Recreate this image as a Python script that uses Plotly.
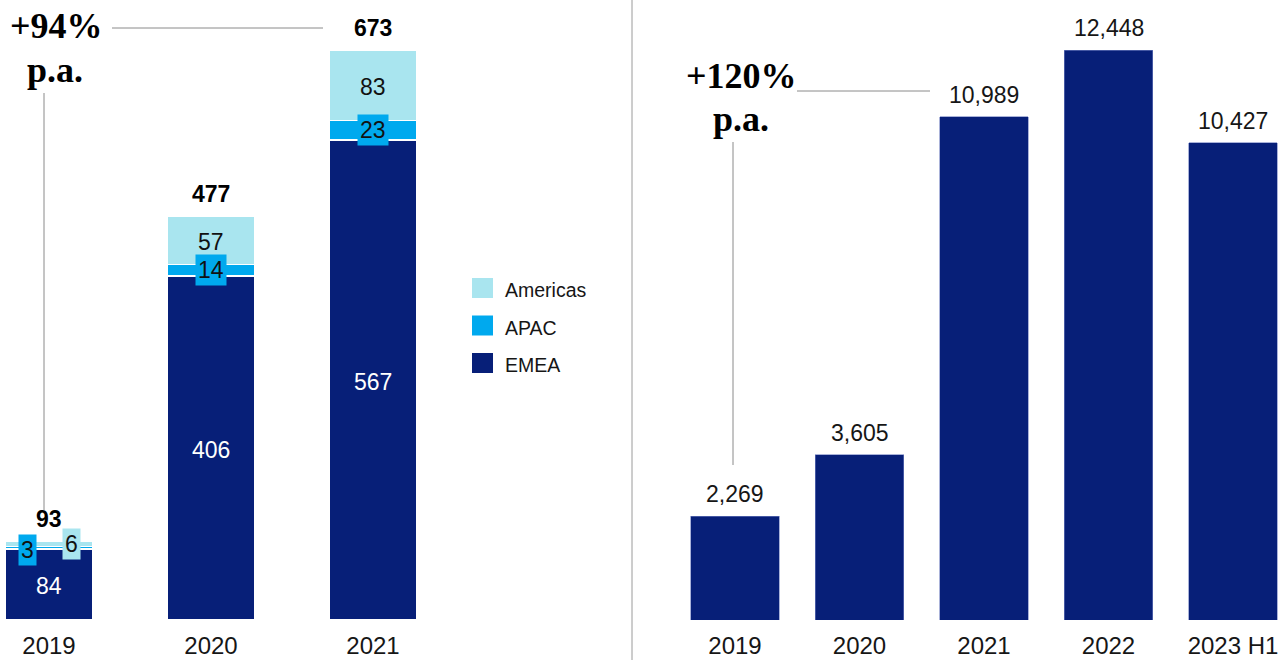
import plotly.graph_objects as go

# ---------------- data ----------------
years_left = ["2019", "2020", "2021"]
emea = [84, 406, 567]
apac = [3, 14, 23]
americas = [6, 57, 83]
totals_left = [93, 477, 673]
growth_left = "+94%"

years_right = ["2019", "2020", "2021", "2022", "2023 H1"]
values_right = [2269, 3605, 10989, 12448, 10427]
growth_right = "+120%"

series_names = ["EMEA", "APAC", "Americas"]
series_values = [emea, apac, americas]

# ---------------- styles ----------------
W, H = 1286, 660
NAVY = "#071f78"
BLUE = "#00a9ee"
LIGHT = "#a9e5ef"
series_colors = {"EMEA": NAVY, "APAC": BLUE, "Americas": LIGHT}
label_colors = {"EMEA": "white", "APAC": "#111111", "Americas": "#111111"}
SANS = "Liberation Sans, Arial, Helvetica, sans-serif"
SERIF = "Liberation Serif, Times New Roman, serif"
TXT = "#161616"
GRID = "#8a8a8a"

BASE_PX = 620  # baseline pixel
Y_DOM0 = (H - BASE_PX) / H
SPLIT = 632 / W

fig = go.Figure()

xl = list(range(len(years_left)))
for name, vals in zip(series_names, series_values):
    fig.add_trace(go.Bar(
        x=xl, y=vals, name=name, width=0.543,
        marker=dict(color=series_colors[name], line=dict(color="white", width=1.5)),
        xaxis="x", yaxis="y", showlegend=False, hoverinfo="y+name",
    ))

xr = list(range(len(years_right)))
fig.add_trace(go.Bar(
    x=xr, y=values_right, width=0.707,
    marker=dict(color=NAVY, line=dict(color="#6f7fc0", width=0.6)),
    xaxis="x2", yaxis="y2", showlegend=False,
))

annotations = []
shapes = []

# segment labels (left)
label_offsets = {("APAC", 0): (-22, -2), ("Americas", 0): (22, 0)}
for i in xl:
    base = 0
    for name, vals in zip(series_names, series_values):
        v = vals[i]
        boxed = v < 30
        dx, dy = label_offsets.get((name, i), (0, 0))
        if not boxed:
            dy -= 2
        annotations.append(dict(
            x=i, y=base + v / 2, xref="x", yref="y", text=str(v), showarrow=False,
            xshift=dx, yshift=dy,
            font=dict(family=SANS, size=23, color=label_colors[name]),
            bgcolor=series_colors[name] if boxed else None, borderpad=2,
            xanchor="center", yanchor="middle",
        ))
        base += v
    annotations.append(dict(
        x=i, y=totals_left[i], xref="x", yref="y", text=f"<b>{totals_left[i]}</b>",
        showarrow=False, yanchor="bottom", yshift=7,
        font=dict(family=SANS, size=23, color="#000000"),
    ))

# value labels (right)
for i, v in zip(xr, values_right):
    annotations.append(dict(
        x=i, y=v, xref="x2", yref="y2", text=f"{v:,}",
        showarrow=False, yanchor="bottom", yshift=7,
        font=dict(family=SANS, size=23, color=TXT),
    ))

def px(x):
    return x / W

def py(y):
    return 1 - y / H

# growth annotations
for text, cx, cy in [(growth_left, 56, 26), ("p.a.", 55, 70), (growth_right, 742, 76), ("p.a.", 741, 119)]:
    annotations.append(dict(
        x=px(cx), y=py(cy), xref="paper", yref="paper", text=f"<b>{text}</b>",
        showarrow=False, xanchor="center", yanchor="middle",
        font=dict(family=SERIF, size=36, color="#000000"),
    ))

for (x0, y0, x1, y1) in [(112, 28, 323, 28), (44, 93, 44, 510), (797, 91, 930, 91), (733, 142, 733, 465)]:
    shapes.append(dict(type="line", xref="paper", yref="paper",
                       x0=px(x0), y0=py(y0), x1=px(x1), y1=py(y1),
                       line=dict(color=GRID, width=1)))

# panel separator
shapes.append(dict(type="line", xref="paper", yref="paper", x0=SPLIT, x1=SPLIT, y0=0, y1=1,
                   line=dict(color="#9a9a9a", width=1)))

# legend (manual, larger swatches)
for k, name in enumerate(["Americas", "APAC", "EMEA"]):
    cy = 288 + k * 37.5
    shapes.append(dict(type="rect", xref="paper", yref="paper",
                       x0=px(472), x1=px(493), y0=py(cy - 10), y1=py(cy + 10),
                       fillcolor=series_colors[name], line=dict(width=0)))
    annotations.append(dict(
        x=px(503), y=py(cy + 2), xref="paper", yref="paper", text=name, showarrow=False,
        xanchor="left", yanchor="middle", font=dict(family=SANS, size=19.5, color=TXT),
    ))

fig.update_layout(
    width=W, height=H, margin=dict(l=0, r=0, t=0, b=0),
    paper_bgcolor="white", plot_bgcolor="white",
    barmode="stack", showlegend=False,
    xaxis=dict(domain=[0, SPLIT], range=[-49 / 162, -49 / 162 + 632 / 162],
               tickmode="array", tickvals=xl, ticktext=years_left,
               showgrid=False, zeroline=False, showline=False, ticks="",
               ticklabelstandoff=9, automargin=False,
               tickfont=dict(family=SANS, size=24, color=TXT)),
    yaxis=dict(domain=[Y_DOM0, 1], range=[0, 673 * 620 / 570], visible=False),
    xaxis2=dict(domain=[SPLIT, 1], range=[-103 / 124.5, -103 / 124.5 + 654 / 124.5],
                tickmode="array", tickvals=xr, ticktext=years_right,
                showgrid=False, zeroline=False, showline=False, ticks="",
                ticklabelstandoff=9, automargin=False,
                tickfont=dict(family=SANS, size=24, color=TXT)),
    yaxis2=dict(domain=[Y_DOM0, 1], range=[0, 12448 * 620 / 570], visible=False, anchor="x2"),
    annotations=annotations, shapes=shapes,
)

fig.write_html("out.html", config={"displayModeBar": False},
               post_script="document.body.style.margin='0';document.body.style.overflow='hidden';")
